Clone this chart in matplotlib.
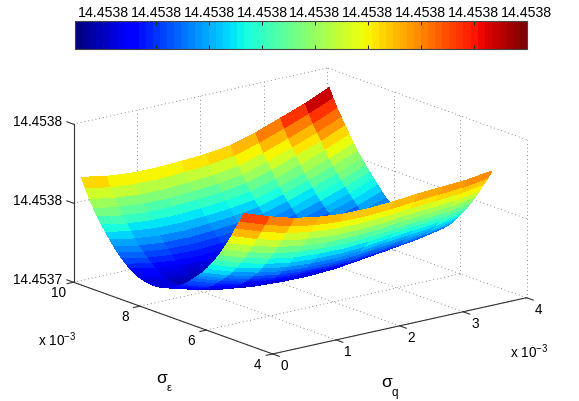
import numpy as np
import matplotlib
matplotlib.use('Agg')
import matplotlib.pyplot as plt
from matplotlib.cm import ScalarMappable
from matplotlib.colors import Normalize
from mpl_toolkits.mplot3d import proj3d

plt.rcParams['font.family'] = ['Liberation Sans', 'DejaVu Sans']

# sigma_q and sigma_eps in units of 1e-3
sigma_q = [0.10, 0.49, 0.88, 1.27, 1.66, 2.05, 2.44, 2.83, 3.22, 3.61, 4.00]
sigma_e = [5.05, 5.1725, 5.295, 5.4175, 5.54, 5.6625, 5.785, 5.9075, 6.03, 6.1525, 6.275,
           6.3975, 6.52, 6.6425, 6.765, 6.8875, 7.01, 7.1325, 7.255, 7.3775, 7.50,
           7.6225, 7.745, 7.8675, 7.99, 8.1125, 8.235, 8.3575, 8.48, 8.6025, 8.725,
           8.8475, 8.97, 9.0925, 9.215, 9.3375, 9.46, 9.5825, 9.705, 9.8275, 9.95]

# height above 14.4537, in units of 1e-4, one row per sigma_e
z_rows = [
    [.800, .745, .700, .672, .658, .656, .665, .680, .690, .700, .722],
    [.743, .689, .644, .616, .602, .600, .609, .624, .635, .646, .669],
    [.690, .636, .592, .564, .550, .548, .557, .573, .584, .596, .620],
    [.633, .580, .536, .509, .495, .494, .503, .520, .532, .545, .570],
    [.580, .528, .485, .458, .445, .445, .454, .472, .485, .499, .525],
    [.531, .478, .436, .410, .398, .397, .406, .424, .438, .454, .480],
    [.486, .433, .392, .366, .355, .353, .362, .381, .396, .413, .440],
    [.444, .391, .350, .324, .313, .311, .320, .339, .355, .372, .400],
    [.405, .353, .312, .286, .275, .273, .283, .302, .318, .336, .365],
    [.369, .317, .277, .251, .239, .237, .247, .266, .282, .301, .331],
    [.337, .285, .245, .219, .207, .205, .214, .233, .250, .270, .300],
    [.309, .257, .217, .191, .179, .177, .185, .205, .223, .243, .274],
    [.283, .232, .191, .166, .154, .152, .159, .179, .199, .218, .250],
    [.256, .206, .166, .141, .130, .128, .136, .157, .177, .198, .231],
    [.232, .182, .144, .119, .108, .107, .116, .137, .158, .181, .215],
    [.212, .163, .126, .103, .093, .091, .101, .123, .146, .170, .205],
    [.195, .146, .110, .088, .079, .077, .087, .111, .135, .161, .197],
    [.179, .132, .097, .076, .069, .068, .079, .104, .131, .158, .196],
    [.165, .119, .085, .066, .060, .061, .073, .099, .128, .157, .197],
    [.155, .110, .078, .060, .056, .058, .071, .099, .129, .161, .203],
    [.146, .103, .073, .056, .053, .056, .070, .100, .132, .166, .210],
    [.142, .101, .072, .057, .055, .059, .074, .105, .140, .175, .222],
    [.139, .100, .072, .059, .057, .063, .080, .112, .149, .186, .235],
    [.141, .103, .077, .064, .064, .071, .088, .122, .160, .199, .249],
    [.145, .108, .083, .071, .072, .080, .098, .133, .173, .213, .265],
    [.150, .115, .091, .082, .084, .093, .112, .148, .191, .233, .287],
    [.158, .123, .101, .094, .098, .107, .127, .165, .210, .255, .310],
    [.173, .139, .119, .113, .118, .128, .150, .189, .236, .283, .340],
    [.190, .158, .139, .134, .141, .152, .175, .216, .264, .313, .372],
    [.211, .180, .162, .158, .165, .177, .200, .242, .291, .342, .402],
    [.235, .205, .188, .184, .192, .204, .228, .271, .321, .373, .435],
    [.263, .233, .217, .213, .221, .234, .257, .301, .352, .405, .468],
    [.293, .264, .248, .245, .253, .266, .289, .333, .386, .439, .503],
    [.328, .299, .283, .280, .288, .301, .324, .369, .422, .476, .540],
    [.365, .337, .321, .318, .326, .339, .362, .407, .460, .515, .580],
    [.403, .375, .360, .358, .367, .380, .403, .449, .503, .560, .626],
    [.445, .417, .403, .402, .412, .424, .448, .494, .550, .608, .675],
    [.489, .461, .447, .445, .455, .467, .490, .536, .592, .650, .718],
    [.537, .509, .495, .492, .502, .514, .537, .583, .639, .697, .765],
    [.596, .567, .553, .550, .559, .570, .591, .637, .693, .751, .819],
    [.659, .630, .615, .612, .620, .630, .650, .695, .752, .810, .878],
]

q_ticks = [0, 1, 2, 3, 4]
e_ticks = [4, 6, 8, 10]
e_tick_labels = ['4', '6', '8', '10']
z_ticks = [0, 0.5, 1]
z_tick_labels = ['14.4537', '14.4538', '14.4538']
cbar_ticks = [.1045, .2011, .2977, .3943, .4909, .5875, .6841, .7807, .8773]
cbar_labels = ['14.4538'] * 9

W, H = 579, 402
fig = plt.figure(figsize=(W / 100, H / 100), dpi=100)
ax_px = 640
ax = fig.add_axes([-28.6 / W, -138.6 / H, ax_px / W, ax_px / H], projection='3d', computed_zorder=False)
ax.set_proj_type('ortho')
ax.view_init(elev=16.4, azim=-128.1)
ax.set_box_aspect((1, 1, 0.5105), zoom=0.736)
ax.set_xlim(0, 4)
ax.set_ylim(4, 10)
ax.set_zlim(0, 1)
ax.set_axis_off()
ax.patch.set_alpha(0)

Q, E = np.meshgrid(sigma_q, sigma_e)
Z = np.array(z_rows)
cmap = plt.get_cmap('jet', 64)
norm = Normalize(Z.min(), Z.max())

# dotted grid on the floor and the two back walls
grid = dict(color='#666666', lw=0.6, ls=(0, (1, 3.5)), zorder=1)
for q in q_ticks:
    ax.plot([q, q], [4, 10], [0, 0], **grid)
    if q > 0:
        ax.plot([q, q], [10, 10], [0, 1], **grid)
for e in e_ticks:
    ax.plot([0, 4], [e, e], [0, 0], **grid)
    if e < 10:
        ax.plot([4, 4], [e, e], [0, 1], **grid)
for z in z_ticks[1:]:
    ax.plot([0, 4], [10, 10], [z, z], **grid)
    ax.plot([4, 4], [4, 10], [z, z], **grid)

ax.plot_surface(Q, E, Z, cmap=cmap, norm=norm, rstride=1, cstride=1, shade=False,
                linewidth=0, antialiased=False, zorder=2)


def label3d(x, y, z, s, dx, dy, ha='center'):
    # text placed by pixels away from a point of the 3d box
    px, py, _ = proj3d.proj_transform(x, y, z, ax.get_proj())
    px, py = ax.transData.transform((px, py))
    fig.text((px + dx) / W, (py - dy) / H, s, ha=ha, va='center', fontsize=9.8)


# solid axis lines and ticks
frame = dict(color='#333333', lw=0.8, zorder=3)
ax.plot([0, 4], [4, 4], [0, 0], **frame)
ax.plot([0, 0], [4, 10], [0, 0], **frame)
ax.plot([0, 0], [10, 10], [0, 1], **frame)
for q in q_ticks:
    ax.plot([q, q], [4, 3.8], [0, 0], **frame)
    label3d(q, 4, 0, str(q), 12, 11)
for e, lab in zip(e_ticks, e_tick_labels):
    ax.plot([0, -0.1], [e, e], [0, 0], **frame)
    label3d(0, e, 0, lab, -15, 10)
for z, lab in zip(z_ticks, z_tick_labels):
    ax.plot([0, 0], [10, 10.2], [z, z], **frame)
    label3d(0, 10, z, lab, -11, -3, ha='right')

fig.text(162 / W, 1 - 379 / H, '\u03c3', ha='center', va='center', fontsize=12.5)
fig.text(169 / W, 1 - 388 / H, '\u03b5', ha='center', va='center', fontsize=8)
fig.text(387 / W, 1 - 383 / H, '\u03c3', ha='center', va='center', fontsize=12.5)
fig.text(395 / W, 1 - 393 / H, 'q', ha='center', va='center', fontsize=8.5)
fig.text(57 / W, 1 - 340 / H, r'x 10$^{\mathregular{-3}}$', ha='center', va='center', fontsize=9.8)
fig.text(529 / W, 1 - 352 / H, r'x 10$^{\mathregular{-3}}$', ha='center', va='center', fontsize=9.8)

# colorbar on top
cax = fig.add_axes([75 / W, 1 - 50 / H, 452 / W, 28 / H])
cbar = fig.colorbar(ScalarMappable(norm=norm, cmap=cmap), cax=cax, orientation='horizontal',
                    ticks=cbar_ticks)
cbar.set_ticklabels(cbar_labels)
cbar.minorticks_off()
cbar.outline.set_edgecolor('#444444')
cbar.outline.set_linewidth(0.8)
cax.tick_params(axis='x', top=True, bottom=True, labeltop=True, labelbottom=False,
                direction='in', length=3, width=0.7, pad=1.5, labelsize=10.2, color='#222222')

fig.savefig('out.png', dpi=100)
